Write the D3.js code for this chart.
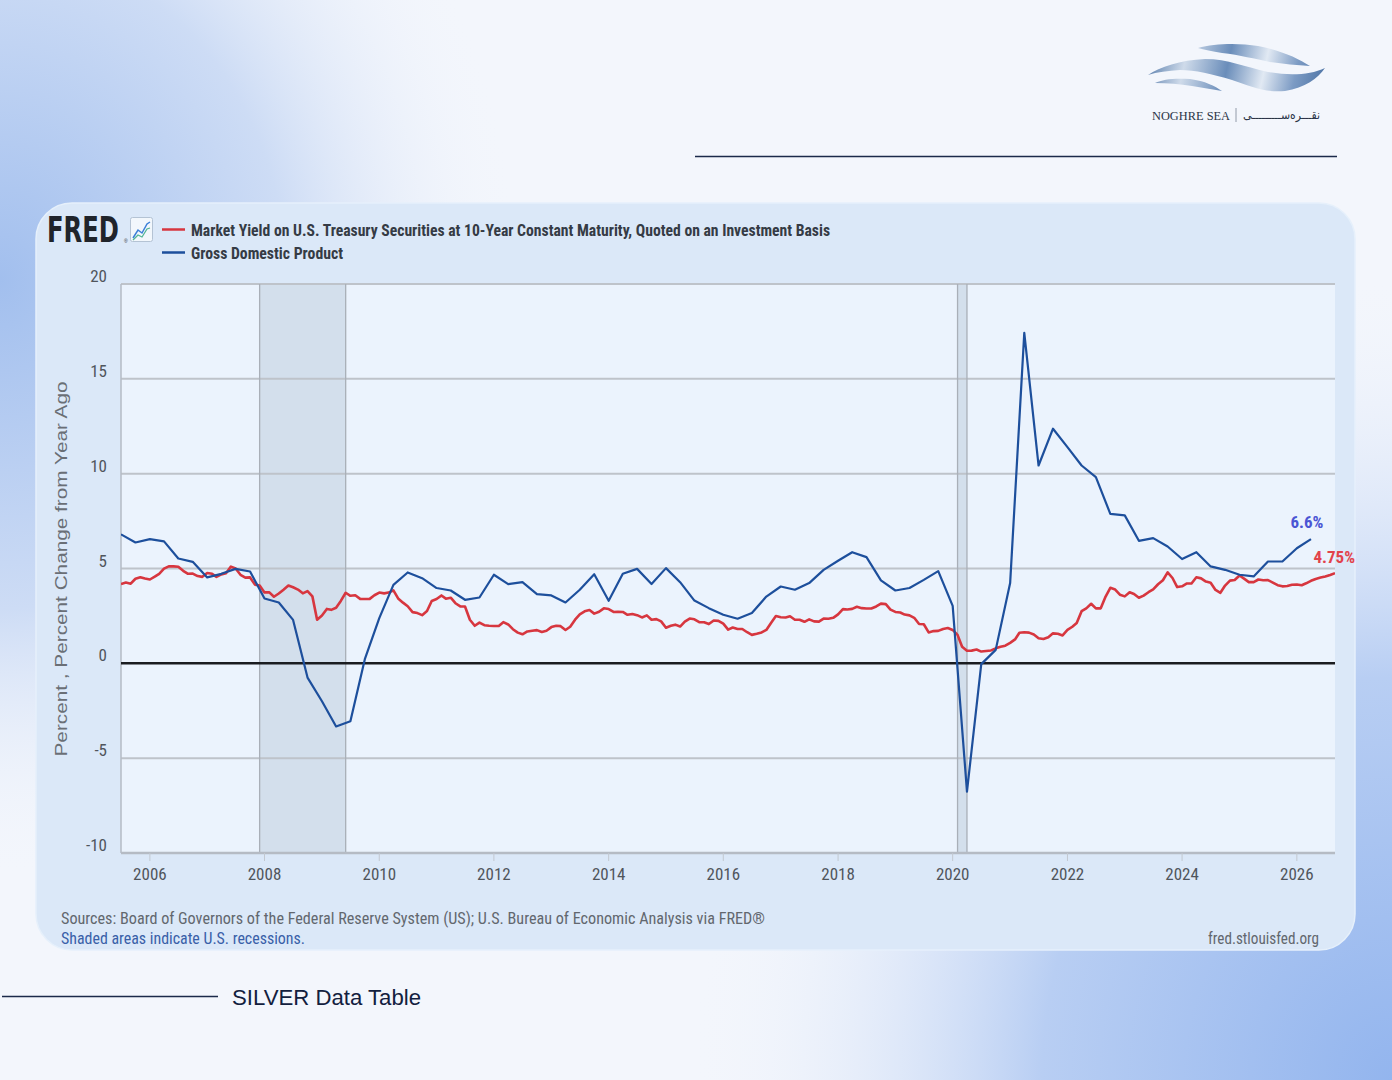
<!DOCTYPE html>
<html>
<head>
<meta charset="utf-8">
<script src="https://cdn.jsdelivr.net/npm/d3@7"></script>
<style>
  html, body { margin: 0; padding: 0; background: #f3f6fc; }
  svg { display: block; }
</style>
</head>
<body>
<div id="chart"></div>
<script>
// FRED chart: 10-year Treasury yield vs GDP growth (percent change from year ago)

// GDP, percent change from year ago, quarterly from 2005 Q3
const gdpStart = "2005-07-01";
const gdpValues = [
  6.80, 6.37,
  6.55, 6.43, 5.53, 5.35,
  4.53, 4.72, 4.98, 4.84,
  3.42, 3.21, 2.29, -0.75,
  -2.00, -3.33, -3.05, 0.22,
  2.38, 4.14, 4.79, 4.49,
  3.97, 3.84, 3.35, 3.47,
  4.67, 4.18, 4.28, 3.65,
  3.58, 3.21, 3.88, 4.70,
  3.30, 4.72, 4.98, 4.18,
  5.02, 4.28, 3.31, 2.91,
  2.56, 2.35, 2.65, 3.52,
  4.05, 3.88, 4.23, 4.93,
  5.41, 5.86, 5.60, 4.37,
  3.84, 3.97, 4.40, 4.86,
  3.03, -6.76, -0.04, 0.71,
  4.23, 17.42, 10.43, 12.37,
  11.40, 10.43, 9.82, 7.88,
  7.80, 6.46, 6.60, 6.16,
  5.50, 5.86, 5.11, 4.93,
  4.67, 4.58, 5.37, 5.37,
  6.07, 6.55
];

// 10-year Treasury yield, monthly from July 2005
const yieldStart = "2005-07-01";
const yieldValues = [
  4.18, 4.26, 4.20, 4.46, 4.54, 4.47,
  4.42, 4.57, 4.72, 4.99, 5.11, 5.11, 5.09, 4.88, 4.72, 4.73, 4.60, 4.56,
  4.76, 4.72, 4.56, 4.69, 4.75, 5.10, 5.00, 4.67, 4.52, 4.53, 4.15, 4.10,
  3.74, 3.74, 3.51, 3.68, 3.88, 4.10, 4.01, 3.89, 3.69, 3.81, 3.53, 2.30,
  2.52, 2.87, 2.82, 2.93, 3.29, 3.72, 3.56, 3.59, 3.40, 3.39, 3.40, 3.59,
  3.73, 3.69, 3.73, 3.85, 3.42, 3.20, 3.01, 2.70, 2.65, 2.54, 2.76, 3.29,
  3.39, 3.58, 3.41, 3.46, 3.17, 3.00, 3.00, 2.30, 1.98, 2.15, 2.01, 1.98,
  1.97, 1.97, 2.17, 2.05, 1.80, 1.62, 1.53, 1.68, 1.72, 1.75, 1.65, 1.72,
  1.91, 1.98, 1.96, 1.76, 1.93, 2.30, 2.58, 2.74, 2.81, 2.62, 2.72, 2.90,
  2.86, 2.71, 2.72, 2.71, 2.56, 2.60, 2.54, 2.42, 2.53, 2.30, 2.33, 2.21,
  1.88, 1.98, 2.04, 1.94, 2.20, 2.36, 2.32, 2.17, 2.17, 2.07, 2.26, 2.24,
  2.09, 1.78, 1.89, 1.81, 1.81, 1.64, 1.50, 1.56, 1.63, 1.76, 2.14, 2.49,
  2.43, 2.42, 2.48, 2.30, 2.30, 2.19, 2.32, 2.21, 2.20, 2.36, 2.35, 2.40,
  2.58, 2.86, 2.84, 2.87, 2.98, 2.91, 2.89, 2.89, 3.00, 3.15, 3.12, 2.83,
  2.71, 2.68, 2.57, 2.53, 2.40, 2.07, 2.06, 1.63, 1.70, 1.71, 1.81, 1.86,
  1.76, 1.50, 0.87, 0.66, 0.67, 0.73, 0.62, 0.65, 0.68, 0.79, 0.87, 0.93,
  1.08, 1.26, 1.61, 1.64, 1.62, 1.52, 1.32, 1.28, 1.37, 1.58, 1.56, 1.47,
  1.76, 1.93, 2.13, 2.75, 2.90, 3.14, 2.90, 2.90, 3.52, 3.98, 3.89, 3.62,
  3.53, 3.75, 3.66, 3.46, 3.57, 3.75, 3.90, 4.17, 4.38, 4.80, 4.50, 4.02,
  4.06, 4.21, 4.21, 4.54, 4.48, 4.31, 4.25, 3.87, 3.72, 4.10, 4.36, 4.39,
  4.63, 4.45, 4.28, 4.28, 4.42, 4.38, 4.39, 4.26, 4.12, 4.06, 4.08, 4.14,
  4.16, 4.12, 4.22, 4.35, 4.45, 4.52, 4.58, 4.66, 4.75
];

const recessions = [["2007-12-01", "2009-06-01"], ["2020-02-01", "2020-04-01"]];
const yTicks = [-10, -5, 0, 5, 10, 15, 20];
const xTickYears = [2006, 2008, 2010, 2012, 2014, 2016, 2018, 2020, 2022, 2024, 2026];

const seriesNames = [
  "Market Yield on U.S. Treasury Securities at 10-Year Constant Maturity, Quoted on an Investment Basis",
  "Gross Domestic Product"
];
const endLabels = ["4.75%", "6.6%"];

(function() {
  'use strict';

  const W = 1392, H = 1080;
  const plot = { left: 121, right: 1335, top: 284, bottom: 853 };
  const narrow = "'Liberation Sans Narrow', 'Roboto Condensed', 'Arial Narrow', 'Liberation Sans', sans-serif";
  const red = "#d7363f", blue = "#1d4f9c";

  const parse = d3.timeParse("%Y-%m-%d");

  const gdp = gdpValues.map((v, i) => ({ date: d3.timeMonth.offset(parse(gdpStart), 3 * i), value: v }));
  const yld = yieldValues.map((v, i) => ({ date: d3.timeMonth.offset(parse(yieldStart), i), value: v }));

  const svg = d3.select("#chart").append("svg")
    .attr("width", W).attr("height", H);

  const defs = svg.append("defs");

  // page background
  const g1 = defs.append("radialGradient").attr("id", "bgLeft")
    .attr("cx", 0).attr("cy", 280).attr("r", 520).attr("gradientUnits", "userSpaceOnUse")
    .attr("gradientTransform", "translate(0,280) scale(1,1.15) translate(0,-280)");
  g1.append("stop").attr("offset", "0%").attr("stop-color", "#a2bfee");
  g1.append("stop").attr("offset", "55%").attr("stop-color", "#cddcf5");
  g1.append("stop").attr("offset", "100%").attr("stop-color", "#f3f6fc").attr("stop-opacity", 0);

  const g2 = defs.append("radialGradient").attr("id", "bgRight")
    .attr("cx", 1392).attr("cy", 1080).attr("r", 700).attr("gradientUnits", "userSpaceOnUse")
    .attr("gradientTransform", "translate(1392,1080) scale(1,1.15) translate(-1392,-1080)");
  g2.append("stop").attr("offset", "0%").attr("stop-color", "#93b5ee");
  g2.append("stop").attr("offset", "50%").attr("stop-color", "#b8cef3");
  g2.append("stop").attr("offset", "100%").attr("stop-color", "#f3f6fc").attr("stop-opacity", 0);

  svg.append("rect").attr("width", W).attr("height", H).attr("fill", "#f3f6fc");
  svg.append("rect").attr("width", W).attr("height", H).attr("fill", "url(#bgLeft)");
  svg.append("rect").attr("width", W).attr("height", H).attr("fill", "url(#bgRight)");

  // brand logo (top right)
  const wave = defs.append("linearGradient").attr("id", "wave")
    .attr("gradientUnits", "userSpaceOnUse")
    .attr("x1", 1146).attr("x2", 1326).attr("y1", 50).attr("y2", 90);
  wave.append("stop").attr("offset", "0%").attr("stop-color", "#4d74a6");
  wave.append("stop").attr("offset", "22%").attr("stop-color", "#cfdbea");
  wave.append("stop").attr("offset", "45%").attr("stop-color", "#6a8dba");
  wave.append("stop").attr("offset", "65%").attr("stop-color", "#e1e9f3");
  wave.append("stop").attr("offset", "82%").attr("stop-color", "#7c9bc4");
  wave.append("stop").attr("offset", "100%").attr("stop-color", "#4a71a3");

  const logo = svg.append("g");
  // top band
  logo.append("path").attr("fill", "url(#wave)")
    .attr("d", "M1198,48 C1215,43 1240,43 1258,46 C1280,50 1298,58 1310,66 C1296,65 1284,64 1270,62 C1255,59 1240,55 1222,53 C1212,51 1204,50 1198,48 Z");
  // middle band
  logo.append("path").attr("fill", "url(#wave)")
    .attr("d", "M1148,75 C1160,67 1180,60 1205,59 C1228,59 1245,67 1268,72 C1290,76 1310,75 1325,68 C1318,78 1305,88 1285,91 C1265,93 1250,86 1232,80 C1212,74 1195,70 1180,70 C1168,71 1157,72 1148,75 Z");
  // bottom band
  logo.append("path").attr("fill", "url(#wave)")
    .attr("d", "M1155,83 C1163,79 1175,78 1190,79 C1205,81 1215,86 1222,91 C1212,89 1202,88 1192,86 C1180,84 1167,83 1155,83 Z");

  logo.append("text").attr("x", 1152).attr("y", 120)
    .attr("font-family", "'Liberation Serif', 'DejaVu Serif', serif")
    .attr("font-size", 11.5).attr("fill", "#2a3446")
    .attr("textLength", 78).attr("lengthAdjust", "spacingAndGlyphs")
    .text("NOGHRE SEA");
  logo.append("line").attr("x1", 1236).attr("x2", 1236).attr("y1", 108).attr("y2", 122)
    .attr("stroke", "#7a8596").attr("stroke-width", 0.8);
  logo.append("text").attr("x", 1320).attr("y", 119).attr("text-anchor", "end")
    .attr("font-family", "'DejaVu Sans', 'Noto Sans', sans-serif")
    .attr("font-size", 12).attr("fill", "#2a3446")
    .attr("textLength", 77).attr("lengthAdjust", "spacingAndGlyphs")
    .text("نقـــره‌ســـــــــی");

  // navy rules
  svg.append("line").attr("x1", 695).attr("x2", 1337).attr("y1", 156.5).attr("y2", 156.5)
    .attr("stroke", "#1b2a4a").attr("stroke-width", 1.4);
  svg.append("line").attr("x1", 2).attr("x2", 218).attr("y1", 996.5).attr("y2", 996.5)
    .attr("stroke", "#1b2a4a").attr("stroke-width", 1.4);
  svg.append("text").attr("x", 232).attr("y", 1005)
    .attr("font-family", "'Liberation Sans', Arial, sans-serif")
    .attr("font-size", 22).attr("fill", "#12203e")
    .attr("textLength", 189).attr("lengthAdjust", "spacingAndGlyphs")
    .text("SILVER Data Table");

  // card
  svg.append("rect").attr("x", 36).attr("y", 203).attr("width", 1319).attr("height", 747)
    .attr("rx", 36).attr("fill", "#dbe8f8").attr("stroke", "#e6f0fb").attr("stroke-width", 1.5);

  // FRED logo (scaled horizontally to its measured width)
  const fredG = svg.append("g");
  const fred = fredG.append("text").attr("x", 0).attr("y", 0)
    .attr("font-family", "'DejaVu Sans Condensed', 'DejaVu Sans', sans-serif")
    .attr("font-weight", 900).attr("font-size", 36).attr("fill", "#20242b")
    .text("FRED");
  const fredW = fred.node().getComputedTextLength() || 90;
  fredG.attr("transform", `translate(47,242) scale(${72 / fredW},1)`);
  svg.append("text").attr("x", 124).attr("y", 243)
    .attr("font-family", "sans-serif").attr("font-size", 5).attr("fill", "#333").text("®");
  svg.append("rect").attr("x", 130.5).attr("y", 217.5).attr("width", 22).attr("height", 24)
    .attr("rx", 2).attr("fill", "#f2f7fc").attr("stroke", "#b4c3d4");
  svg.append("polyline").attr("points", "133,238 138,230 142,233 147,224 150,222")
    .attr("fill", "none").attr("stroke", "#3b7fd8").attr("stroke-width", 1.5);
  svg.append("polyline").attr("points", "133,240 138,235 142,237 147,229 150,228")
    .attr("fill", "none").attr("stroke", "#52b596").attr("stroke-width", 1.3);

  const legend = svg.append("g");
  [red, blue].forEach((c, i) => {
    legend.append("line").attr("x1", 162).attr("x2", 185)
      .attr("y1", 229.5 + 23 * i).attr("y2", 229.5 + 23 * i)
      .attr("stroke", c).attr("stroke-width", 2.5);
    legend.append("text").attr("x", 191).attr("y", 235.5 + 23 * i)
      .attr("font-family", narrow).attr("font-weight", "bold")
      .attr("font-size", 17).attr("fill", "#353b45")
      .attr("textLength", i === 0 ? 639 : 152).attr("lengthAdjust", "spacingAndGlyphs")
      .text(seriesNames[i]);
  });

  // scales
  const x = d3.scaleTime()
    .domain([parse("2005-07-01"), parse("2026-09-01")])
    .range([plot.left, plot.right]);
  const y = d3.scaleLinear().domain([-10, 20]).range([plot.bottom, plot.top]);

  // plot area
  svg.append("rect").attr("x", plot.left).attr("y", plot.top)
    .attr("width", plot.right - plot.left).attr("height", plot.bottom - plot.top)
    .attr("fill", "#ebf3fd");

  defs.append("clipPath").attr("id", "clip").append("rect")
    .attr("x", plot.left).attr("y", plot.top - 2)
    .attr("width", plot.right - plot.left).attr("height", plot.bottom - plot.top + 4);

  // recession shading
  svg.append("g").selectAll("rect").data(recessions).join("rect")
    .attr("x", d => x(parse(d[0])))
    .attr("width", d => x(parse(d[1])) - x(parse(d[0])))
    .attr("y", plot.top).attr("height", plot.bottom - plot.top)
    .attr("fill", "#d3dfec");

  // grid
  svg.append("g").selectAll("line").data(yTicks.filter(v => v !== 0 && v !== -10)).join("line")
    .attr("x1", plot.left).attr("x2", plot.right)
    .attr("y1", d => y(d)).attr("y2", d => y(d))
    .attr("stroke", "#bec3ca").attr("stroke-width", 2);

  // recession edges
  const edges = svg.append("g");
  recessions.forEach(r => {
    r.forEach(d => {
      edges.append("line").attr("x1", x(parse(d))).attr("x2", x(parse(d)))
        .attr("y1", plot.top).attr("y2", plot.bottom)
        .attr("stroke", "#a9afb8").attr("stroke-width", 1.3);
    });
  });

  // axes frame
  svg.append("line").attr("x1", plot.left).attr("x2", plot.left)
    .attr("y1", plot.top).attr("y2", plot.bottom)
    .attr("stroke", "#b5bbc4").attr("stroke-width", 1.5);
  svg.append("line").attr("x1", plot.left).attr("x2", plot.right)
    .attr("y1", plot.bottom).attr("y2", plot.bottom)
    .attr("stroke", "#b5bbc4").attr("stroke-width", 2.5);

  // zero line
  svg.append("line").attr("x1", plot.left).attr("x2", plot.right)
    .attr("y1", y(0)).attr("y2", y(0))
    .attr("stroke", "#1a1c20").attr("stroke-width", 2.5);

  // y tick labels
  svg.append("g").selectAll("text").data(yTicks).join("text")
    .attr("x", 107).attr("y", d => y(d) - 2)
    .attr("text-anchor", "end")
    .attr("font-family", narrow).attr("font-size", 17).attr("fill", "#50555c")
    .text(d => d);

  // x ticks + labels
  const xt = svg.append("g");
  xt.selectAll("line").data(xTickYears).join("line")
    .attr("x1", d => x(new Date(d, 0, 1))).attr("x2", d => x(new Date(d, 0, 1)))
    .attr("y1", plot.bottom).attr("y2", plot.bottom + 8)
    .attr("stroke", "#c2c8d0").attr("stroke-width", 1);
  xt.selectAll("text").data(xTickYears).join("text")
    .attr("x", d => x(new Date(d, 0, 1)))
    .attr("y", 880)
    .attr("text-anchor", "middle")
    .attr("font-family", narrow).attr("font-size", 17).attr("fill", "#50555c")
    .text(d => d);

  // y axis title
  svg.append("text")
    .attr("transform", "translate(67,569) rotate(-90)")
    .attr("text-anchor", "middle")
    .attr("font-family", "'Liberation Sans', Arial, sans-serif")
    .attr("font-size", 17).attr("fill", "#6a6f76")
    .attr("textLength", 375).attr("lengthAdjust", "spacingAndGlyphs")
    .text("Percent , Percent Change from Year Ago");

  // series
  const line = d3.line().x(d => x(d.date)).y(d => y(d.value));
  const series = svg.append("g").attr("clip-path", "url(#clip)");
  series.append("path").datum(yld)
    .attr("d", line).attr("fill", "none")
    .attr("stroke", red).attr("stroke-width", 2.6)
    .attr("stroke-linejoin", "round");
  series.append("path").datum(gdp)
    .attr("d", line).attr("fill", "none")
    .attr("stroke", blue).attr("stroke-width", 2.2)
    .attr("stroke-linejoin", "round");

  // end labels
  const lastG = gdp[gdp.length - 1], lastY = yld[yld.length - 1];
  svg.append("text")
    .attr("x", x(lastG.date) - 4).attr("y", y(lastG.value) - 11)
    .attr("text-anchor", "middle")
    .attr("font-family", narrow).attr("font-weight", "bold")
    .attr("font-size", 17).attr("fill", "#4a55d4")
    .text(endLabels[1]);
  svg.append("text")
    .attr("x", x(lastY.date) + 20).attr("y", y(lastY.value) - 10)
    .attr("text-anchor", "end")
    .attr("font-family", narrow).attr("font-weight", "bold")
    .attr("font-size", 17).attr("fill", "#e2434b")
    .text(endLabels[0]);

  // footer
  svg.append("text").attr("x", 61).attr("y", 924)
    .attr("font-family", narrow).attr("font-size", 17).attr("fill", "#62676e")
    .attr("textLength", 704).attr("lengthAdjust", "spacingAndGlyphs")
    .text("Sources: Board of Governors of the Federal Reserve System (US); U.S. Bureau of Economic Analysis via FRED®");
  svg.append("text").attr("x", 61).attr("y", 944)
    .attr("font-family", narrow).attr("font-size", 17).attr("fill", "#3960a8")
    .attr("textLength", 244).attr("lengthAdjust", "spacingAndGlyphs")
    .text("Shaded areas indicate U.S. recessions.");
  svg.append("text").attr("x", 1319).attr("y", 944).attr("text-anchor", "end")
    .attr("font-family", narrow).attr("font-size", 17).attr("fill", "#62676e")
    .attr("textLength", 111).attr("lengthAdjust", "spacingAndGlyphs")
    .text("fred.stlouisfed.org");
})();
</script>
</body>
</html>
